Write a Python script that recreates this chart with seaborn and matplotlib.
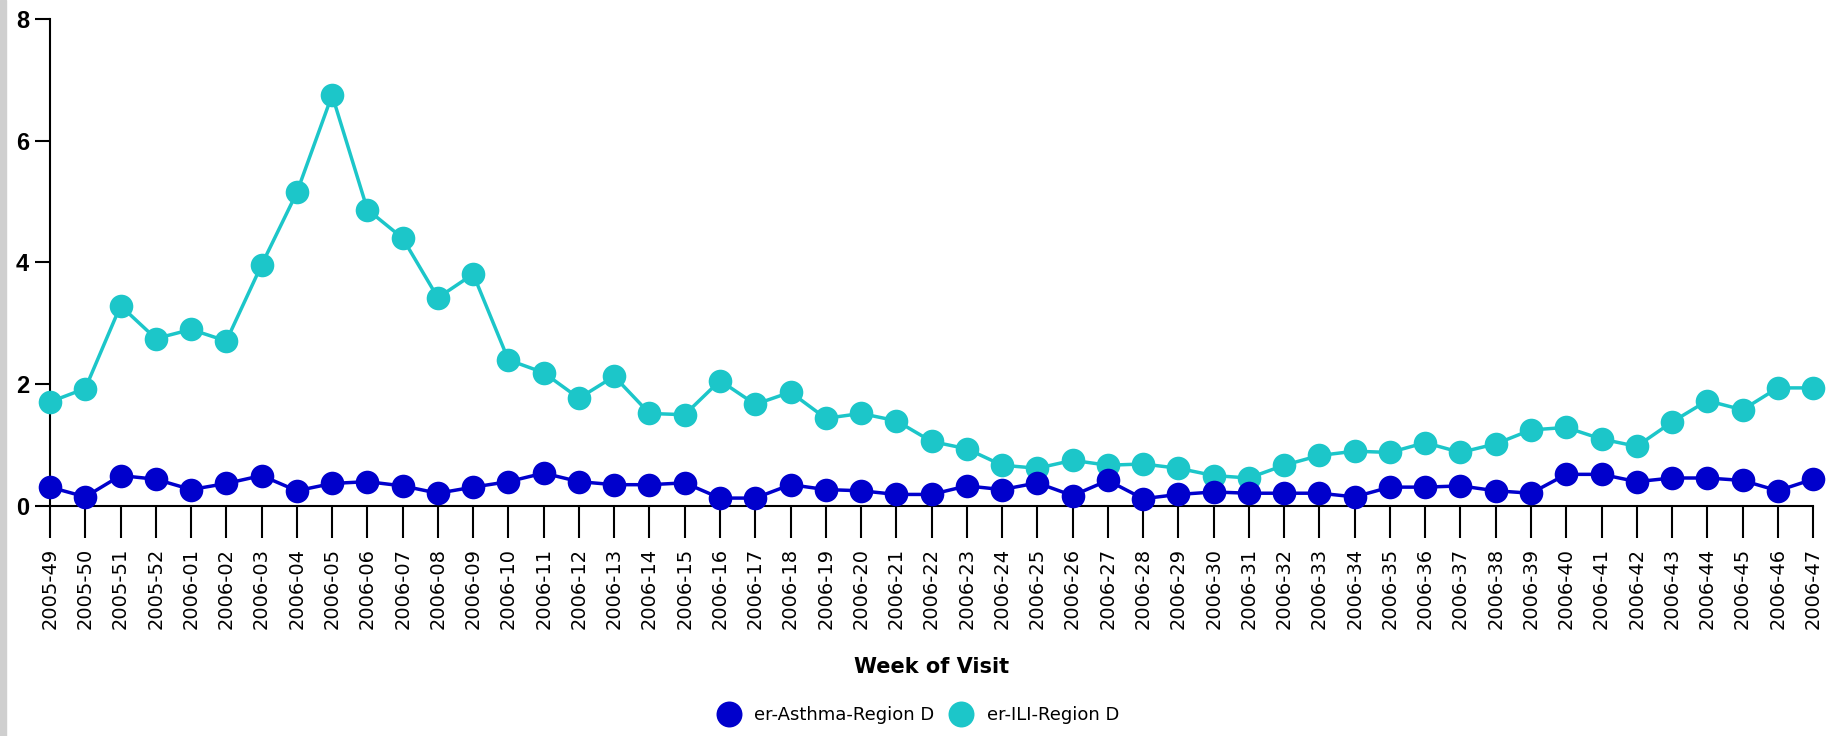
import numpy as np
import pandas as pd
import seaborn as sns
import matplotlib.pyplot as plt
from matplotlib.patches import Rectangle

# weeks of visit
weeks = (["2005-%02d" % w for w in range(49, 53)] +
         ["2006-%02d" % w for w in range(1, 48)])

ili = [1.71, 1.93, 3.29, 2.75, 2.90, 2.71, 3.96, 5.15, 6.75, 4.87,
       4.40, 3.42, 3.81, 2.40, 2.19, 1.77, 2.13, 1.52, 1.50, 2.06,
       1.67, 1.87, 1.44, 1.52, 1.40, 1.06, 0.94, 0.67, 0.62, 0.75,
       0.67, 0.69, 0.62, 0.50, 0.46, 0.67, 0.83, 0.90, 0.88, 1.04,
       0.88, 1.02, 1.25, 1.29, 1.10, 0.98, 1.38, 1.73, 1.58, 1.94,
       1.94]

asthma = [0.31, 0.15, 0.50, 0.44, 0.27, 0.37, 0.50, 0.25, 0.37, 0.40,
          0.33, 0.21, 0.31, 0.40, 0.54, 0.40, 0.35, 0.35, 0.38, 0.13,
          0.13, 0.35, 0.27, 0.25, 0.19, 0.19, 0.33, 0.27, 0.38, 0.17,
          0.42, 0.12, 0.19, 0.23, 0.21, 0.21, 0.21, 0.15, 0.31, 0.31,
          0.33, 0.25, 0.21, 0.52, 0.52, 0.40, 0.46, 0.46, 0.42, 0.25,
          0.44]

blue = "#0000cc"
cyan = "#1cc6c9"

sns.set_theme(style="white", rc={"text.color": "black",
                                 "xtick.color": "black",
                                 "ytick.color": "black",
                                 "axes.labelcolor": "black"})
plt.rcParams['font.family'] = ['DejaVu Sans']

fig = plt.figure(figsize=(18.39, 7.36), dpi=100)
ax = fig.add_axes([0.0272, 0.3125, 0.9587, 0.6617])

x = np.arange(len(weeks))
df_ili = pd.DataFrame(dict(x=x, y=ili))
df_ast = pd.DataFrame(dict(x=x, y=asthma))

sns.lineplot(data=df_ili, x="x", y="y", ax=ax, color=cyan, lw=2.5,
             marker="o", markersize=17, markeredgewidth=0,
             label="er-ILI-Region D", clip_on=False, zorder=3)
sns.lineplot(data=df_ast, x="x", y="y", ax=ax, color=blue, lw=2.5,
             marker="o", markersize=17, markeredgewidth=0,
             label="er-Asthma-Region D", clip_on=False, zorder=4)

ax.set_xlim(0, len(weeks) - 1)
ax.set_ylim(0, 8)
ax.set_yticks([0, 2, 4, 6, 8])
ax.set_yticklabels(["0", "2", "4", "6", "8"], fontsize=17,
                   fontweight="bold", family="Liberation Sans")
ax.set_xticks(x)
ax.set_xticklabels(weeks, rotation=90, fontsize=14)
ax.tick_params(axis="x", length=23, width=1.5, pad=7, bottom=True)
ax.tick_params(axis="y", length=11, width=1.5, pad=4, left=True)
ax.set_xlabel("Week of Visit", fontsize=15, fontweight="bold", labelpad=20)
ax.set_ylabel("")

sns.despine(ax=ax)
for s in ["left", "bottom"]:
    ax.spines[s].set_color("black")
    ax.spines[s].set_linewidth(1.5)

h, l = ax.get_legend_handles_labels()
ax.get_legend().remove()
order = [1, 0]
leg = fig.legend([h[i] for i in order], [l[i] for i in order],
                 loc="center", bbox_to_anchor=(0.50, 0.028),
                 ncol=2, frameon=False, fontsize=13, handlelength=1.0,
                 handletextpad=0.9, columnspacing=1.0, markerscale=1.1)
for hd in leg.legend_handles:
    hd.set_linestyle("none")

# grey frame strip on the left edge
fig.patches.append(Rectangle((0, 0), 6 / 1839, 1, transform=fig.transFigure,
                             color="#cfcfcf", zorder=0))

fig.savefig("out.png", dpi=100)
